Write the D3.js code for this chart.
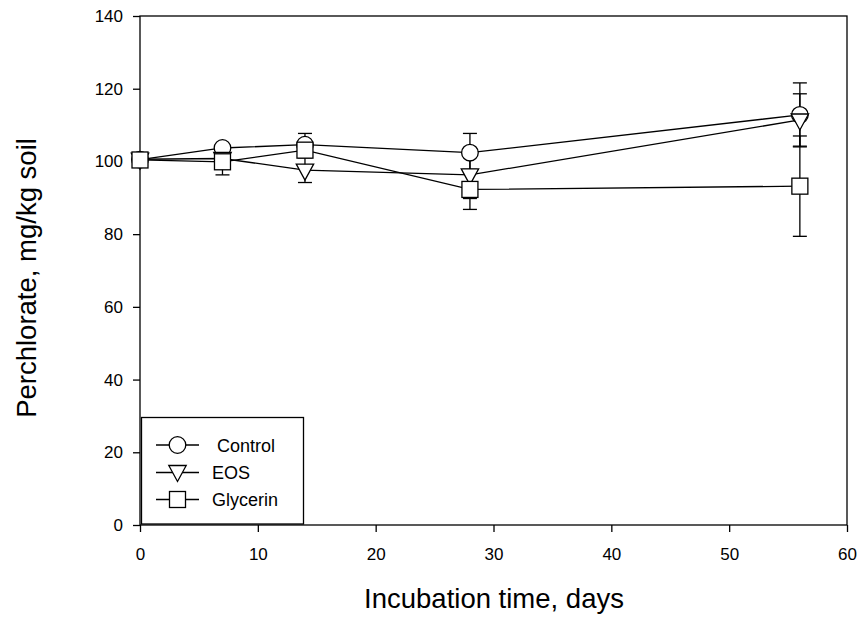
<!DOCTYPE html>
<html>
<head>
<meta charset="utf-8">
<script src="https://cdn.jsdelivr.net/npm/d3@7"></script>
<style>
body { margin: 0; background: #fff; }
text { font-family: "Liberation Sans", Arial, sans-serif; }
</style>
</head>
<body>
<div id="chart"></div>
<script>
var days = [0, 7, 14, 28, 56];

var controlMean = [100.5, 103.7, 104.6, 102.4, 112.8];
var controlErr  = [0.8, 1.0, 3.1, 5.3, 8.8];
var eosMean     = [100.6, 100.8, 97.6, 96.3, 111.4];
var eosErr      = [0.8, 1.2, 3.4, 6.5, 7.2];
var glyMean     = [100.4, 99.9, 103.1, 92.3, 93.2];
var glyErr      = [0.8, 3.6, 1.2, 5.5, 13.8];

var seriesNames = ["Control", "EOS", "Glycerin"];
var xTicks = [0, 10, 20, 30, 40, 50, 60];
var yTicks = [0, 20, 40, 60, 80, 100, 120, 140];

var margin = {top: 16, right: 15, bottom: 93, left: 140},
    width = 862 - margin.left - margin.right,
    height = 618 - margin.top - margin.bottom;

var svg = d3.select("#chart").append("svg")
    .attr("width", 862)
    .attr("height", 618);

var g = svg.append("g")
    .attr("transform", "translate(" + margin.left + "," + margin.top + ")");

var x = d3.scaleLinear().domain([0, 60]).range([0, width]);
var y = d3.scaleLinear().domain([0, 140]).range([height, 0]);

// frame
g.append("rect")
    .attr("width", width).attr("height", height)
    .attr("fill", "none").attr("stroke", "#000").attr("stroke-width", 1.3);

var xAxis = g.append("g")
    .attr("transform", "translate(0," + height + ")")
    .call(d3.axisBottom(x).tickValues(xTicks).tickSize(7).tickPadding(16));
var yAxis = g.append("g")
    .call(d3.axisLeft(y).tickValues(yTicks).tickSize(7).tickPadding(10));
[xAxis, yAxis].forEach(function(a) {
    a.select(".domain").remove();
    a.selectAll("line").attr("stroke-width", 1.3);
    a.selectAll("text").style("font-size", "17px").attr("fill", "#000")
        .style("font-family", "'Liberation Sans', Arial, sans-serif");
});

// axis titles
svg.append("text")
    .attr("x", 494).attr("y", 608)
    .attr("text-anchor", "middle").style("font-size", "27.5px")
    .text("Incubation time, days");
svg.append("text")
    .attr("transform", "translate(36,278) rotate(-90)")
    .attr("text-anchor", "middle").style("font-size", "27.5px")
    .text("Perchlorate, mg/kg soil");

var series = [
    {name: seriesNames[0], mean: controlMean, err: controlErr, shape: "circle"},
    {name: seriesNames[1], mean: eosMean, err: eosErr, shape: "triangle"},
    {name: seriesNames[2], mean: glyMean, err: glyErr, shape: "square"}
];

function drawMarker(sel, shape, cx, cy) {
    if (shape === "circle") {
        sel.append("circle").attr("cx", cx).attr("cy", cy).attr("r", 8.3)
            .attr("fill", "#fff").attr("stroke", "#000").attr("stroke-width", 1.3);
    } else if (shape === "triangle") {
        sel.append("path")
            .attr("d", "M" + (cx - 8.7) + "," + (cy - 6) + "L" + (cx + 8.7) + "," + (cy - 6) + "L" + cx + "," + (cy + 10) + "Z")
            .attr("fill", "#fff").attr("stroke", "#000").attr("stroke-width", 1.3);
    } else {
        sel.append("rect").attr("x", cx - 8).attr("y", cy - 8).attr("width", 16).attr("height", 16)
            .attr("fill", "#fff").attr("stroke", "#000").attr("stroke-width", 1.3);
    }
}

var line = d3.line().x(function(d) { return x(d[0]); }).y(function(d) { return y(d[1]); });

series.forEach(function(s) {
    var pts = days.map(function(d, i) { return [d, s.mean[i], s.err[i]]; });
    g.append("path").datum(pts).attr("d", line)
        .attr("fill", "none").attr("stroke", "#000").attr("stroke-width", 1.3);
});

series.forEach(function(s) {
    var sg = g.append("g");
    days.forEach(function(d, i) {
        var cx = x(d), lo = y(s.mean[i] - s.err[i]), hi = y(s.mean[i] + s.err[i]);
        sg.append("line").attr("x1", cx).attr("x2", cx).attr("y1", lo).attr("y2", hi)
            .attr("stroke", "#000").attr("stroke-width", 1.3);
        [lo, hi].forEach(function(yy) {
            sg.append("line").attr("x1", cx - 7).attr("x2", cx + 7).attr("y1", yy).attr("y2", yy)
                .attr("stroke", "#000").attr("stroke-width", 1.3);
        });
    });
});

series.forEach(function(s) {
    var sg = g.append("g");
    days.forEach(function(d, i) { drawMarker(sg, s.shape, x(d), y(s.mean[i])); });
});

// legend
var lg = svg.append("g");
lg.append("rect").attr("x", 141.5).attr("y", 417.5).attr("width", 162).attr("height", 106.5)
    .attr("fill", "#fff").attr("stroke", "#000").attr("stroke-width", 1.3);
var legY = [445, 472.5, 499.5];
series.forEach(function(s, i) {
    lg.append("line").attr("x1", 156).attr("x2", 199).attr("y1", legY[i]).attr("y2", legY[i])
        .attr("stroke", "#000").attr("stroke-width", 1.3);
    drawMarker(lg, s.shape, 177.5, s.shape === "triangle" ? legY[i] - 1 : legY[i]);
    lg.append("text").attr("x", i === 0 ? 217 : 212).attr("y", legY[i] + 6.5)
        .style("font-size", "18px").text(s.name);
});
</script>
</body>
</html>
